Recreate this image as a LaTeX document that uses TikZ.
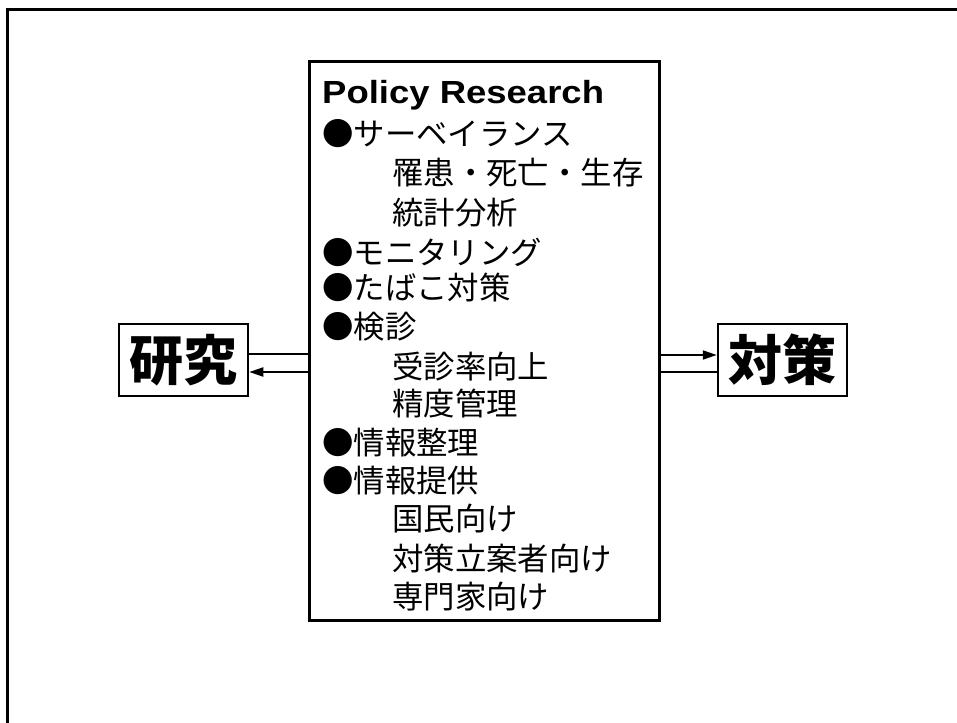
\documentclass[tikz,border=0pt]{standalone}
\usepackage{fontspec}
\setmainfont{Liberation Sans}
\newfontfamily\jp{Noto Sans CJK JP}
\usetikzlibrary{arrows.meta}
\begin{document}
\begin{tikzpicture}[x=1pt,y=-1pt,
  line/.style={line width=2pt},
  tip/.style={-{Triangle[length=14pt,width=9pt]}},
  item/.style={anchor=west,inner sep=0pt,font=\jp\fontsize{31.4}{34}\selectfont},
  bigbox/.style={draw,line width=2.5pt,minimum width=129pt,minimum height=72pt,inner sep=0pt,font=\jp\bfseries\fontsize{54}{60}\selectfont}]
\useasboundingbox (0,0) rectangle (957,722);
\clip (0,0) rectangle (957,722);
% outer frame (cropped at right and bottom)
\draw[line width=3pt] (7,740) -- (7,10) -- (980,10);
% central box
\node[draw,line width=3pt,minimum width=350pt,minimum height=558pt,inner sep=0pt] (pr) at (484,341) {};
\node[anchor=west,inner sep=0pt,font=\bfseries\fontsize{32}{36}\selectfont,xscale=1.14] (title) at (322,95) {Policy Research};
\node[item] (l1) at (322,134) {●サーベイランス};
\node[item] (l2) at (392,173) {罹患・死亡・生存};
\node[item] (l3) at (392,213) {統計分析};
\node[item] (l4) at (322,252) {●モニタリング};
\node[item] (l5) at (322,288) {●たばこ対策};
\node[item] (l6) at (322,327) {●検診};
\node[item] (l7) at (392,367) {受診率向上};
\node[item] (l8) at (392,404) {精度管理};
\node[item] (l9) at (322,443) {●情報整理};
\node[item] (l10) at (322,481) {●情報提供};
\node[item] (l11) at (392,519) {国民向け};
\node[item] (l12) at (392,558) {対策立案者向け};
\node[item] (l13) at (392,597) {専門家向け};
% side boxes
\node[bigbox] (ken) at (183.5,360) {研究};
\node[bigbox] (tai) at (782.5,360) {対策};
% connectors
\draw[line] ([yshift=6pt]pr.west |- ken.east) -- ([yshift=6pt]ken.east);
\draw[line,tip] ([yshift=-12pt]pr.west |- ken.east) -- ([yshift=-12pt]ken.east);
\draw[line,tip] ([yshift=5pt]pr.east |- tai.west) -- ([yshift=5pt]tai.west);
\draw[line] ([yshift=-12pt]pr.east |- tai.west) -- ([yshift=-12pt]tai.west);
\end{tikzpicture}
\end{document}
